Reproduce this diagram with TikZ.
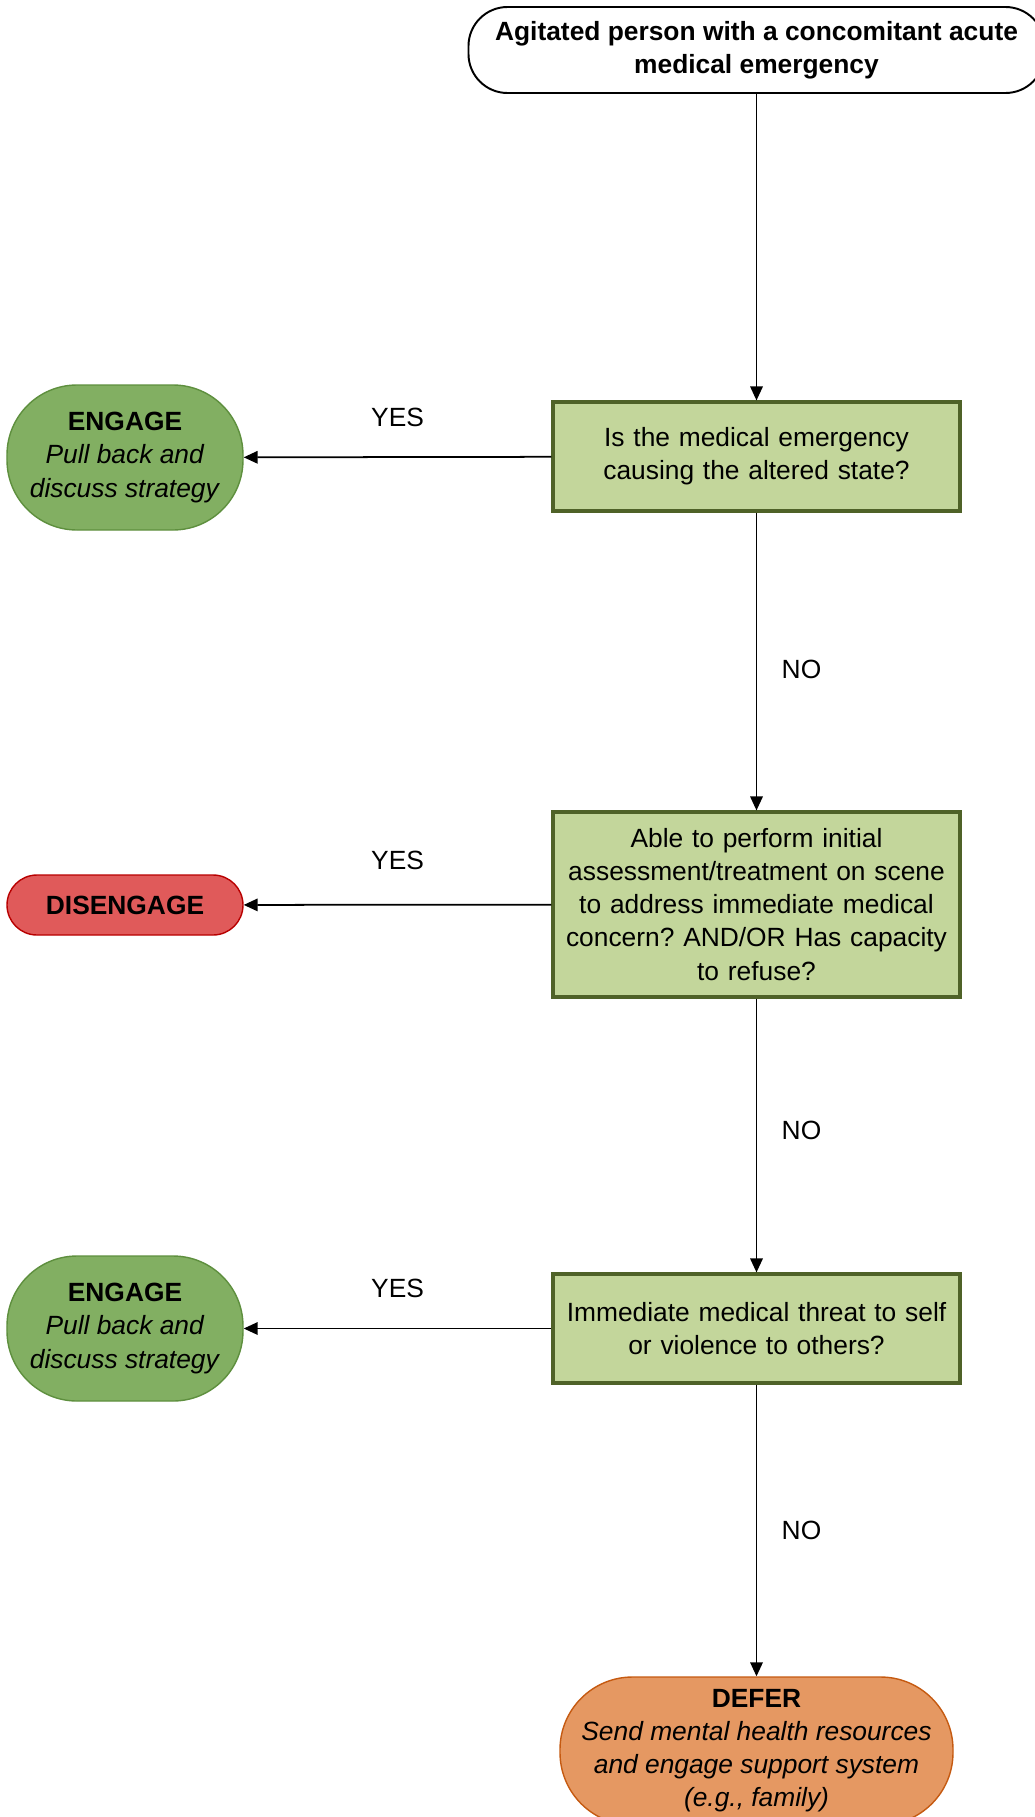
\documentclass[tikz,border=0pt]{standalone}
\usepackage{fontspec}
\setmainfont{Liberation Sans}
\usepackage{xcolor}
\usetikzlibrary{positioning,arrows.meta}
\definecolor{qFill}{HTML}{C3D69B}
\definecolor{qDraw}{HTML}{4F6228}
\definecolor{engFill}{HTML}{82AF62}
\definecolor{engDraw}{HTML}{5E8F3E}
\definecolor{disFill}{HTML}{E05A5A}
\definecolor{disDraw}{HTML}{B80000}
\definecolor{defFill}{HTML}{E59862}
\definecolor{defDraw}{HTML}{C55A11}
\frenchspacing

\begin{document}
\begin{tikzpicture}[
  start/.style={
    rectangle, rounded corners=0.78cm,
    draw=black, fill=white, line width=1.1pt,
    minimum width=11.52cm, minimum height=1.72cm,
    font=\fontsize{15}{18.8}\selectfont\bfseries, align=center
  },
  question/.style={
    rectangle, draw=qDraw, fill=qFill, line width=1.8pt,
    minimum width=8.14cm, minimum height=2.18cm,
    text width=7.9cm,
    font=\fontsize{15}{18.8}\selectfont, align=center
  },
  outcome/.style={
    rectangle, line width=0.8pt,
    minimum width=4.72cm, minimum height=2.9cm,
    rounded corners=1.4cm, inner sep=2pt,
    font=\fontsize{15}{18.8}\selectfont, align=center
  },
  lbl/.style={font=\fontsize{15}{18.8}\selectfont},
  arr/.style={-{Triangle[length=0.28cm,width=0.25cm]}, black, line width=1pt}
]
\useasboundingbox (0,0) rectangle (20.7,-36.34);

% Start
\node[start] (start) at (15.13,-1.0)
  {Agitated person with a concomitant acute\\medical emergency};

% Questions
\node[question] (q1) at (15.13,-9.13)
  {Is the medical emergency\\causing the altered state?};
\node[question, minimum height=3.7cm] (q2) at (15.13,-18.09)
  {Able to perform initial\\assessment/treatment on scene\\to address immediate medical\\concern? AND/OR Has capacity\\to refuse?};
\node[question] (q3) at (15.13,-26.57)
  {Immediate medical threat to self\\or violence to others?};

% Outcomes
\node[outcome, draw=engDraw, fill=engFill] (eng1) at (2.5,-9.15)
  {\textbf{ENGAGE}\\\textit{Pull back and}\\\textit{discuss strategy}};
\node[outcome, draw=disDraw, fill=disFill, minimum height=1.2cm,
  rounded corners=0.6cm] (dis) at (2.5,-18.1)
  {\textbf{DISENGAGE}};
\node[outcome, draw=engDraw, fill=engFill] (eng2) at (2.5,-26.57)
  {\textbf{ENGAGE}\\\textit{Pull back and}\\\textit{discuss strategy}};
\node[outcome, draw=defDraw, fill=defFill, minimum width=7.86cm,
  minimum height=2.96cm, rounded corners=1.45cm] (defer) at (15.13,-35.02)
  {\textbf{DEFER}\\\textit{Send mental health resources}\\\textit{and engage support system}\\\textit{(e.g., family)}};

% Arrows
\draw[arr] (start) -- (q1);
\draw[arr] (q1) -- node[lbl, yshift=0.8cm] {YES} (eng1);
\draw[arr] (q1) -- node[lbl, xshift=0.9cm, yshift=-0.15cm] {NO} (q2);
\draw[arr] (q2) -- node[lbl, yshift=0.88cm] {YES} (dis);
\draw[arr] (q2) -- node[lbl, xshift=0.9cm, yshift=0.1cm] {NO} (q3);
\draw[arr] (q3) -- node[lbl, yshift=0.8cm] {YES} (eng2);
\draw[arr] (q3) -- node[lbl, xshift=0.9cm] {NO} (defer);

\end{tikzpicture}
\end{document}
